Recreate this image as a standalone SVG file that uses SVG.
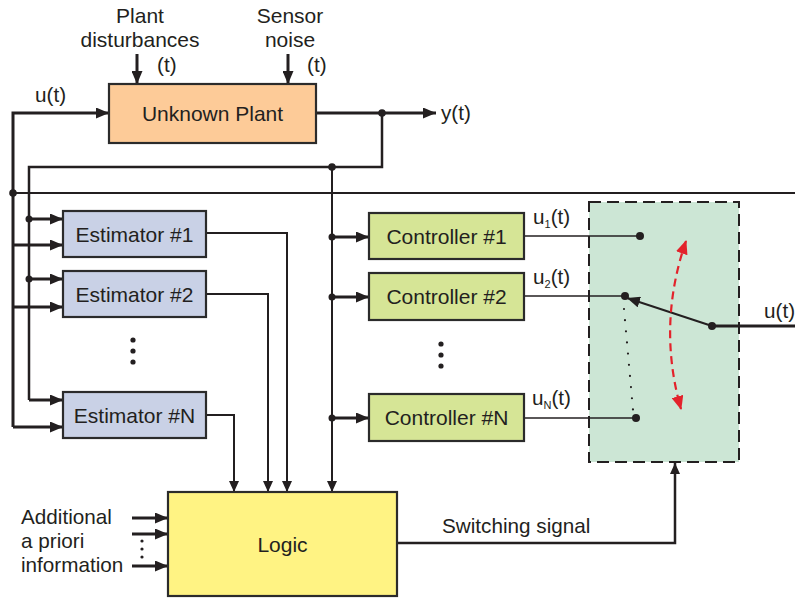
<svg xmlns="http://www.w3.org/2000/svg" width="795" height="599" viewBox="0 0 795 599">
<style>
text{font-family:"Liberation Sans",Arial,sans-serif;fill:#231f20;}
.lbl{font-size:21px;text-anchor:middle;}
.side{font-size:20.7px;}
.box{stroke:#2b2b2b;stroke-width:2.2;}
.w{fill:none;stroke:#231f20;stroke-linejoin:miter;}
.t3{stroke-width:3;}
.t25{stroke-width:2.5;}
.t2{stroke-width:2;}
.t15{stroke-width:1.6;}
.dot{fill:#231f20;}
</style>
<defs>
<marker id="ah" markerUnits="userSpaceOnUse" markerWidth="13" markerHeight="11" refX="13" refY="5.5" orient="auto"><path d="M0,0 L13,5.5 L0,11 z" fill="#231f20"/></marker>
<marker id="ahs" markerUnits="userSpaceOnUse" markerWidth="11" markerHeight="10" refX="11" refY="5" orient="auto"><path d="M0,0 L11,5 L0,10 z" fill="#231f20"/></marker>
<marker id="ar" markerUnits="userSpaceOnUse" markerWidth="14" markerHeight="12" refX="13" refY="6" orient="auto-start-reverse"><path d="M0,0 L14,6 L0,12 z" fill="#e3222b"/></marker>
</defs>

<g id="switch-box">
<rect x="589" y="202" width="150" height="260" fill="#cce6d5" stroke="#231f20" stroke-width="2" stroke-dasharray="12 6"/>
</g>

<g id="connectors">
<path class="w t3" d="M13,427 V113 H109" marker-end="url(#ah)"/>
<path class="w t2" d="M13,193 H795"/>
<path class="w t3" d="M316,113 H436" marker-end="url(#ah)"/>
<path class="w t25" d="M382,113 V167 H29 V400"/>
<path class="w t2" d="M332,167 V492" marker-end="url(#ahs)"/>
<path class="w t3" d="M137,54 V84" marker-end="url(#ah)"/>
<path class="w t3" d="M288,54 V84" marker-end="url(#ah)"/>
<path class="w t3" d="M29,219 H63" marker-end="url(#ah)"/>
<path class="w t3" d="M13,245 H63" marker-end="url(#ah)"/>
<path class="w t3" d="M29,279 H63" marker-end="url(#ah)"/>
<path class="w t3" d="M13,307 H63" marker-end="url(#ah)"/>
<path class="w t3" d="M29,400 H63" marker-end="url(#ah)"/>
<path class="w t3" d="M13,427 H63" marker-end="url(#ah)"/>
<path class="w t2" d="M206,233 H287 V492" marker-end="url(#ahs)"/>
<path class="w t2" d="M206,294 H268 V492" marker-end="url(#ahs)"/>
<path class="w t2" d="M206,415 H234 V492" marker-end="url(#ahs)"/>
<path class="w t3" d="M332,237 H369" marker-end="url(#ah)"/>
<path class="w t3" d="M332,297 H369" marker-end="url(#ah)"/>
<path class="w t3" d="M332,418 H369" marker-end="url(#ah)"/>
<path class="w t15" d="M524,236 H640"/>
<path class="w t15" d="M524,296 H625"/>
<path class="w t15" d="M524,418 H636"/>
<path class="w t3" d="M712,326 H795"/>
<path class="w t2" d="M712,326 L627,298" marker-end="url(#ah)"/>
<path d="M624,309 L633,410" fill="none" stroke="#231f20" stroke-width="2.2" stroke-linecap="round" stroke-dasharray="0 11.2"/>
<path d="M686,241 Q657,325 681,409" fill="none" stroke="#e3222b" stroke-width="2.2" stroke-dasharray="8 5" marker-start="url(#ar)" marker-end="url(#ar)"/>
<path class="w t25" d="M397,543 H675 V463" marker-end="url(#ahs)"/>
<path class="w t3" d="M132,518 H168" marker-end="url(#ah)"/>
<path class="w t3" d="M132,534 H168" marker-end="url(#ah)"/>
<path class="w t3" d="M132,566 H168" marker-end="url(#ah)"/>
<circle class="dot" cx="382" cy="113" r="3.8"/>
<circle class="dot" cx="332" cy="167" r="3.8"/>
<circle class="dot" cx="13" cy="193" r="3.8"/>
<circle class="dot" cx="29" cy="219" r="3.5"/>
<circle class="dot" cx="29" cy="279" r="3.5"/>
<circle class="dot" cx="332" cy="237" r="3.5"/>
<circle class="dot" cx="332" cy="297" r="3.5"/>
<circle class="dot" cx="332" cy="418" r="3.5"/>
<circle class="dot" cx="640" cy="236" r="4"/>
<circle class="dot" cx="625" cy="296" r="4"/>
<circle class="dot" cx="636" cy="418" r="4"/>
<circle class="dot" cx="712" cy="326" r="4"/>
<circle class="dot" cx="133" cy="340" r="2.6"/>
<circle class="dot" cx="133" cy="351" r="2.6"/>
<circle class="dot" cx="133" cy="362" r="2.6"/>
<circle class="dot" cx="441" cy="344" r="2.6"/>
<circle class="dot" cx="441" cy="355" r="2.6"/>
<circle class="dot" cx="441" cy="366" r="2.6"/>
<circle class="dot" cx="142" cy="541" r="1.6"/>
<circle class="dot" cx="142" cy="549" r="1.6"/>
<circle class="dot" cx="142" cy="557" r="1.6"/>
</g>

<g id="plant">
<rect class="box" x="109" y="84" width="207" height="59" fill="#fdcb98"/>
<text class="lbl" x="212.5" y="120.5">Unknown Plant</text>
</g>
<g id="est1">
<rect class="box" x="63" y="211" width="143" height="46" fill="#c9d1e6"/>
<text class="lbl" x="134.5" y="242">Estimator #1</text>
</g>
<g id="est2">
<rect class="box" x="63" y="271" width="143" height="46" fill="#c9d1e6"/>
<text class="lbl" x="134.5" y="302">Estimator #2</text>
</g>
<g id="estN">
<rect class="box" x="63" y="392" width="143" height="46" fill="#c9d1e6"/>
<text class="lbl" x="134.5" y="423">Estimator #N</text>
</g>
<g id="ctrl1">
<rect class="box" x="369" y="213" width="155" height="46" fill="#d6e596"/>
<text class="lbl" x="446.5" y="244">Controller #1</text>
</g>
<g id="ctrl2">
<rect class="box" x="369" y="273" width="155" height="47" fill="#d6e596"/>
<text class="lbl" x="446.5" y="304">Controller #2</text>
</g>
<g id="ctrlN">
<rect class="box" x="369" y="394" width="155" height="47" fill="#d6e596"/>
<text class="lbl" x="446.5" y="425">Controller #N</text>
</g>
<g id="logic">
<rect class="box" x="168" y="492" width="229" height="104" fill="#fff383"/>
<text class="lbl" x="282.5" y="552">Logic</text>
</g>

<g id="labels">
<text class="lbl" x="140" y="23">Plant</text>
<text class="lbl" x="140" y="47">disturbances</text>
<text class="side" x="157" y="72">(t)</text>
<text class="lbl" x="290" y="23">Sensor</text>
<text class="lbl" x="290" y="47">noise</text>
<text class="side" x="307" y="72">(t)</text>
<text class="side" x="35" y="102">u(t)</text>
<text class="side" x="441" y="120">y(t)</text>
<text class="side" x="533" y="224">u<tspan font-size="11" dy="4">1</tspan><tspan dy="-4">(t)</tspan></text>
<text class="side" x="533" y="284">u<tspan font-size="11" dy="4">2</tspan><tspan dy="-4">(t)</tspan></text>
<text class="side" x="532" y="405">u<tspan font-size="11" dy="4">N</tspan><tspan dy="-4">(t)</tspan></text>
<text class="side" x="764" y="318">u(t)</text>
<text class="side" x="442" y="533">Switching signal</text>
<text class="side" x="21" y="524">Additional</text>
<text class="side" x="21" y="548">a priori</text>
<text class="side" x="21" y="572">information</text>
</g>
</svg>
